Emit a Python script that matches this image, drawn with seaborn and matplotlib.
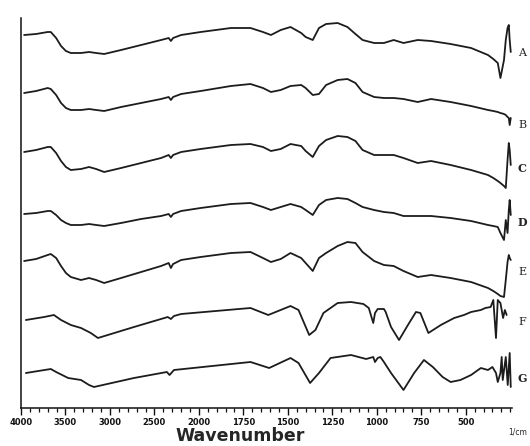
import numpy as np
import matplotlib
matplotlib.use("Agg")
import matplotlib.pyplot as plt
import seaborn as sns

# wavenumber grid (1/cm) shared by spectra A-E
wn_top = [3965, 3830, 3700, 3665, 3605, 3550, 3495, 3440, 3325, 3235,
          3155, 3065, 2875, 2650, 2425, 2340, 2315, 2290, 2200, 1990,
          1820, 1710, 1640, 1595, 1540, 1485, 1425, 1400, 1360, 1325,
          1285, 1220, 1165, 1120, 1080, 1015, 960, 905, 850, 770,
          695, 585, 470, 375, 345, 320, 305, 285, 275, 265,
          258, 253, 247]

# stacked spectra (larger = lower on the chart)
trace_a = [35, 34, 32, 32, 38, 46, 51, 53, 53, 52,
           53, 54, 50, 45, 40, 38, 41, 38, 35, 32,
           28, 28, 32, 35, 30, 27, 33, 37, 40, 28,
           24, 23, 27, 34, 40, 43, 43, 40, 43, 40,
           41, 44, 48, 55, 59, 63, 78, 60, 40, 28,
           25, 40, 52]
trace_b = [93, 91, 88, 89, 95, 103, 108, 110, 110, 109,
           110, 111, 107, 103, 99, 97, 100, 97, 94, 91,
           86, 84, 88, 92, 90, 86, 85, 88, 95, 94,
           85, 80, 79, 83, 92, 97, 98, 98, 99, 102,
           99, 102, 106, 110, 111, 112, 113, 114, 115, 117,
           118, 125, 118]
trace_c = [152, 150, 147, 147, 153, 161, 167, 170, 169, 167,
           169, 172, 168, 163, 158, 155, 158, 155, 152, 149,
           145, 144, 147, 151, 149, 144, 146, 151, 157, 146,
           140, 136, 137, 141, 150, 155, 155, 155, 158, 163,
           161, 165, 170, 175, 178, 181, 183, 186, 188, 160,
           143, 150, 165]
trace_d = [214, 213, 211, 211, 215, 220, 223, 225, 225, 224,
           225, 226, 223, 219, 216, 214, 217, 214, 211, 208,
           204, 203, 207, 210, 207, 204, 207, 210, 215, 205,
           200, 198, 199, 203, 207, 210, 212, 213, 216, 216,
           216, 218, 221, 225, 226, 227, 233, 240, 220, 233,
           210, 200, 215]
trace_e = [261, 259, 255, 254, 258, 266, 273, 277, 280, 278,
           280, 283, 278, 272, 266, 263, 268, 264, 260, 257,
           253, 252, 258, 262, 259, 253, 258, 263, 271, 258,
           253, 246, 242, 243, 252, 261, 265, 266, 271, 277,
           275, 278, 282, 288, 291, 294, 296, 297, 280, 262,
           255, 258, 260]

wn_f = [3945, 3740, 3630, 3550, 3440, 3325, 3215, 3135, 2730, 2350,
        2315, 2280, 2200, 1710, 1610, 1485, 1440, 1380, 1345, 1300,
        1220, 1145, 1075, 1045, 1020, 1010, 995, 960, 950, 920,
        875, 825, 780, 755, 710, 640, 565, 510, 470, 415,
        390, 360, 345, 330, 320, 305, 290, 280, 270]
trace_f = [320, 317, 315, 320, 325, 328, 333, 338, 327, 317,
           319, 316, 314, 308, 315, 306, 310, 335, 330, 313,
           303, 302, 304, 308, 323, 313, 309, 309, 312, 327,
           340, 325, 312, 313, 333, 325, 318, 315, 312, 310,
           308, 307, 300, 338, 300, 303, 318, 310, 315]

wn_g = [3945, 3665, 3605, 3470, 3325, 3235, 3180, 2730, 2360, 2330,
        2280, 1710, 1605, 1485, 1440, 1375, 1325, 1260, 1145, 1060,
        1040, 1020, 1010, 995, 980, 960, 920, 850, 790, 735,
        685, 630, 585, 530, 470, 415, 375, 350, 330, 320,
        305, 298, 292, 275, 264, 253, 247]
trace_g = [373, 369, 372, 378, 380, 385, 387, 378, 372, 375,
           370, 362, 368, 358, 363, 383, 373, 358, 355, 359,
           358, 357, 362, 358, 357, 362, 373, 390, 373, 360,
           367, 377, 382, 380, 375, 368, 370, 367, 373, 382,
           373, 357, 380, 357, 385, 353, 387]

sample_labels = ["A", "B", "C", "D", "E", "F", "G"]
label_y = [53, 125, 168, 222, 272, 322, 378]
label_bold = [False, False, True, True, False, False, True]

major_ticks = [4000, 3500, 3000, 2500, 2000, 1750, 1500, 1250, 1000, 750, 500]
minor_ticks = [w for w in range(3900, 2000, -100) if w not in major_ticks] + \
              [w for w in range(1950, 240, -50) if w not in major_ticks]


def forward(w):
    # instrument axis: 4000-2000 drawn at half the scale of 2000-250
    w = np.asarray(w, dtype=float)
    return np.where(w >= 2000, 2000 + (w - 2000) / 2, w)


def inverse(t):
    t = np.asarray(t, dtype=float)
    return np.where(t >= 2000, 2000 + (t - 2000) * 2, t)


sns.set_style("ticks")
plt.rcParams["font.family"] = ["DejaVu Sans"]

fig = plt.figure(figsize=(5.3, 4.46), dpi=100)
ax = fig.add_axes([21 / 530, 38 / 446, 491 / 530, 390 / 446])
ax.set_xscale("function", functions=(forward, inverse))

spectra = [(wn_top, trace_a), (wn_top, trace_b), (wn_top, trace_c),
           (wn_top, trace_d), (wn_top, trace_e), (wn_f, trace_f), (wn_g, trace_g)]
for wn, tr in spectra:
    sns.lineplot(x=wn, y=tr, ax=ax, color="#1c1c1c", linewidth=1.3,
                 sort=False, estimator=None)

ax.set_xlim(4000, 240)
ax.set_ylim(408, 18)
ax.set_xticks(major_ticks)
ax.set_xticks(minor_ticks, minor=True)
ax.set_xticklabels([str(t) for t in major_ticks], fontsize=6, fontweight="bold")
ax.tick_params(axis="x", which="major", length=5, width=1, pad=2, direction="out", colors="#111111")
ax.tick_params(axis="x", which="minor", length=3, width=0.9, direction="out", colors="#111111")
ax.set_yticks([])
ax.set_xlabel("")
ax.set_ylabel("")
sns.despine(ax=ax, top=True, right=True)
for side in ["left", "bottom"]:
    ax.spines[side].set_linewidth(1.1)
    ax.spines[side].set_color("#111111")

for lab, py, bold in zip(sample_labels, label_y, label_bold):
    fig.text(518 / 530, 1 - py / 446, lab, fontsize=8, family="DejaVu Serif",
             fontweight="bold" if bold else "normal", va="center", ha="left")

fig.text(240 / 530, 1 - 436 / 446, "Wavenumber", fontsize=12.5, fontweight="bold",
         ha="center", va="center")
fig.text(518 / 530, 1 - 432 / 446, "1/cm", fontsize=5.5, ha="center", va="center")

fig.savefig("out.png", dpi=100)
